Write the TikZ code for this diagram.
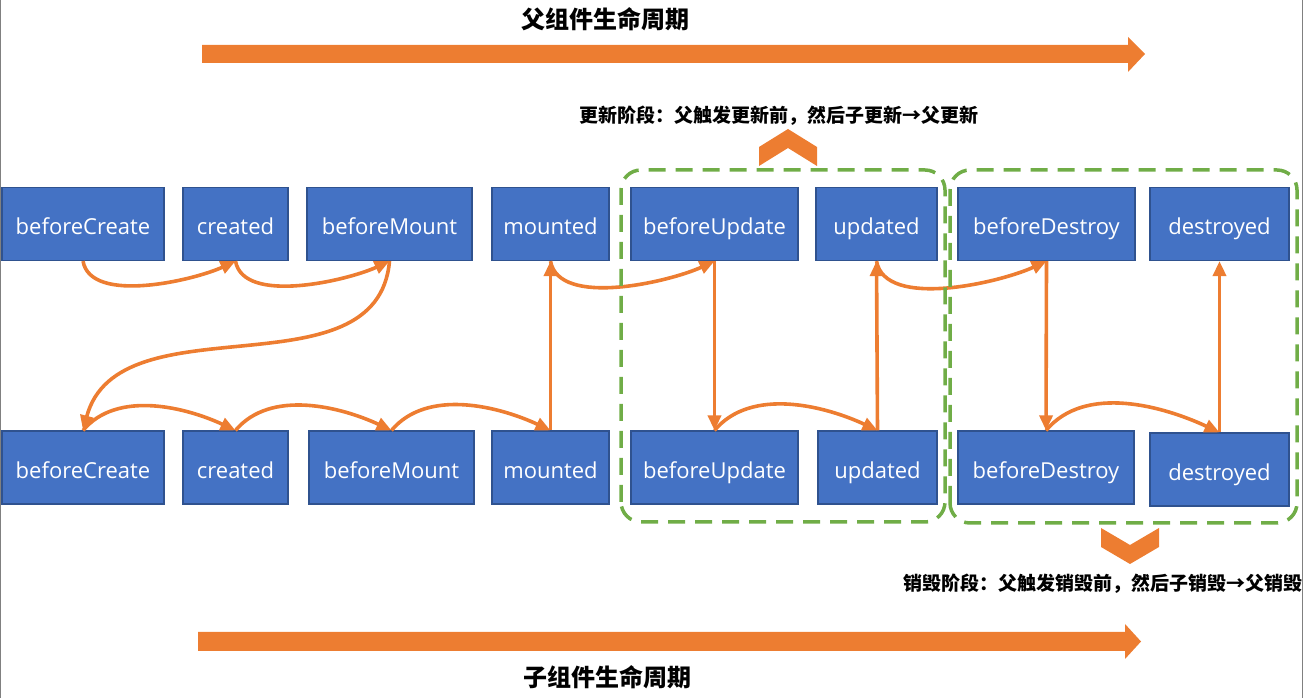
\documentclass[tikz,border=0pt]{standalone}
\usepackage{fontspec}
\setmainfont{Open Sans}
\newfontfamily\cjk{Noto Sans CJK SC}
\usepackage{tikz}
\usetikzlibrary{positioning,arrows.meta}
\definecolor{boxblue}{HTML}{4472C4}
\definecolor{boxedge}{HTML}{2F528F}
\definecolor{floworange}{HTML}{ED7D31}
\definecolor{phasegreen}{HTML}{70AD47}
\tikzset{
  lifebox/.style={
    rectangle,
    fill=boxblue,
    draw=boxedge,
    line width=1.2pt,
    text=white,
    inner sep=0pt,
    minimum height=73pt,
    text height=26pt,
    text depth=4pt,
    font=\fontsize{22}{26}\selectfont
  },
  flow/.style={
    draw=floworange,
    line width=3.6pt,
    -{Triangle[length=15pt,width=13pt]}
  },
  phasebox/.style={
    draw=phasegreen,
    line width=3.5pt,
    dash pattern=on 17pt off 10pt,
    rounded corners=20pt
  },
  titlecjk/.style={
    font=\cjk\bfseries\fontsize{24}{28}\selectfont,
    inner sep=0pt
  },
  notecjk/.style={
    font=\cjk\bfseries\fontsize{19}{22}\selectfont,
    inner sep=0pt
  }
}

\begin{document}
\begin{tikzpicture}[x=1pt,y=1pt]
        \useasboundingbox (0,0) rectangle (1303,698);
        \draw [gray, line width=1pt] (0.5,0) -- (0.5,698) (1302.5,0) -- (1302.5,698);
        \node [lifebox, minimum width=162pt] (PBC) at (83,474) {beforeCreate};
        \node [lifebox, minimum width=105pt, on grid, right=152.5pt of PBC] (PC) {created};
        \node [lifebox, minimum width=165pt, on grid, right=154pt of PC] (PBM) {beforeMount};
        \node [lifebox, minimum width=117pt, on grid, right=161pt of PBM] (PM) {mounted};
        \node [lifebox, minimum width=167pt, on grid, right=164pt of PM] (PBU) {beforeUpdate};
        \node [lifebox, minimum width=121pt, on grid, right=162pt of PBU] (PU) {updated};
        \node [lifebox, minimum width=177pt, on grid, right=170pt of PU] (PBD) {beforeDestroy};
        \node [lifebox, minimum width=139pt, on grid, right=173pt of PBD] (PD) {destroyed};
        \node [lifebox, minimum width=162pt] (CBC) at (83,230.5) {beforeCreate};
        \node [lifebox, minimum width=105pt, on grid, right=152.5pt of CBC] (CC) {created};
        \node [lifebox, minimum width=165pt, on grid, right=156pt of CC] (CBM) {beforeMount};
        \node [lifebox, minimum width=117pt, on grid, right=159pt of CBM] (CM) {mounted};
        \node [lifebox, minimum width=167pt, on grid, right=164pt of CM] (CBU) {beforeUpdate};
        \node [lifebox, minimum width=119pt, on grid, right=163pt of CBU] (CU) {updated};
        \node [lifebox, minimum width=176pt, on grid, right=168.5pt of CU] (CBD) {beforeDestroy};
        \node [lifebox, minimum width=139pt, on grid, below right=2pt and 173.5pt of CBD] (CD) {destroyed};
        \draw [flow] (PBC.south) to[out=-80,in=-155,looseness=0.75] (PC.south);
        \draw [flow] (PC.south) to[out=-80,in=-155,looseness=0.75] (PBM.south);
        \draw [flow] (PBM.south) to[out=-95,in=75] (CBC.north);
        \draw [flow] (CBC.north) to[out=50,in=155,looseness=0.9] (CC.north);
        \draw [flow] (CC.north) to[out=50,in=155,looseness=0.9] (CBM.north);
        \draw [flow] (CBM.north) to[out=50,in=155,looseness=0.9] (CM.north);
        \draw [flow] (CM.north) -- (PM.south);
        \draw [flow] (PM.south) to[out=-80,in=-155,looseness=0.75] (PBU.south);
        \draw [flow] (PBU.south) -- (CBU.north);
        \draw [flow] (CBU.north) to[out=50,in=155,looseness=0.9] (CU.north);
        \draw [flow] (CU.north) -- (PU.south);
        \draw [flow] (PU.south) to[out=-80,in=-155,looseness=0.75] (PBD.south);
        \draw [flow] (PBD.south) -- (CBD.north);
        \draw [flow] (CBD.north) to[out=50,in=155,looseness=0.9] (CD.north);
        \draw [flow] (CD.north) -- (PD.south);
        \draw [phasebox] (621,176) rectangle (945,528);
        \draw [phasebox] (950,175) rectangle (1297,528);
        \fill [floworange] (202,635) -- (1128,635) -- (1128,626) -- (1145,644) -- (1128,661) -- (1128,653) -- (202,653) -- cycle;
        \fill [floworange] (198,47) -- (1125,47) -- (1125,39) -- (1141,56.5) -- (1125,74) -- (1125,66) -- (198,66) -- cycle;
        \fill [floworange] (759,532) -- (759,551) -- (788,569) -- (817,551) -- (817,532) -- (788,550) -- cycle;
        \fill [floworange] (1101,170) -- (1130,153) -- (1159,170) -- (1159,151) -- (1130,134) -- (1101,151) -- cycle;
        \node [titlecjk] (PTitle) at (605,679) {父组件生命周期};
        \node [titlecjk] (CTitle) at (607,21) {子组件生命周期};
        \node [notecjk] (UpdNote) at (779,582) {更新阶段：父触发更新前，然后子更新→父更新};
        \node [notecjk, anchor=west] (DesNote) at (903,114) {销毁阶段：父触发销毁前，然后子销毁→父销毁};
      \end{tikzpicture}
\end{document}
